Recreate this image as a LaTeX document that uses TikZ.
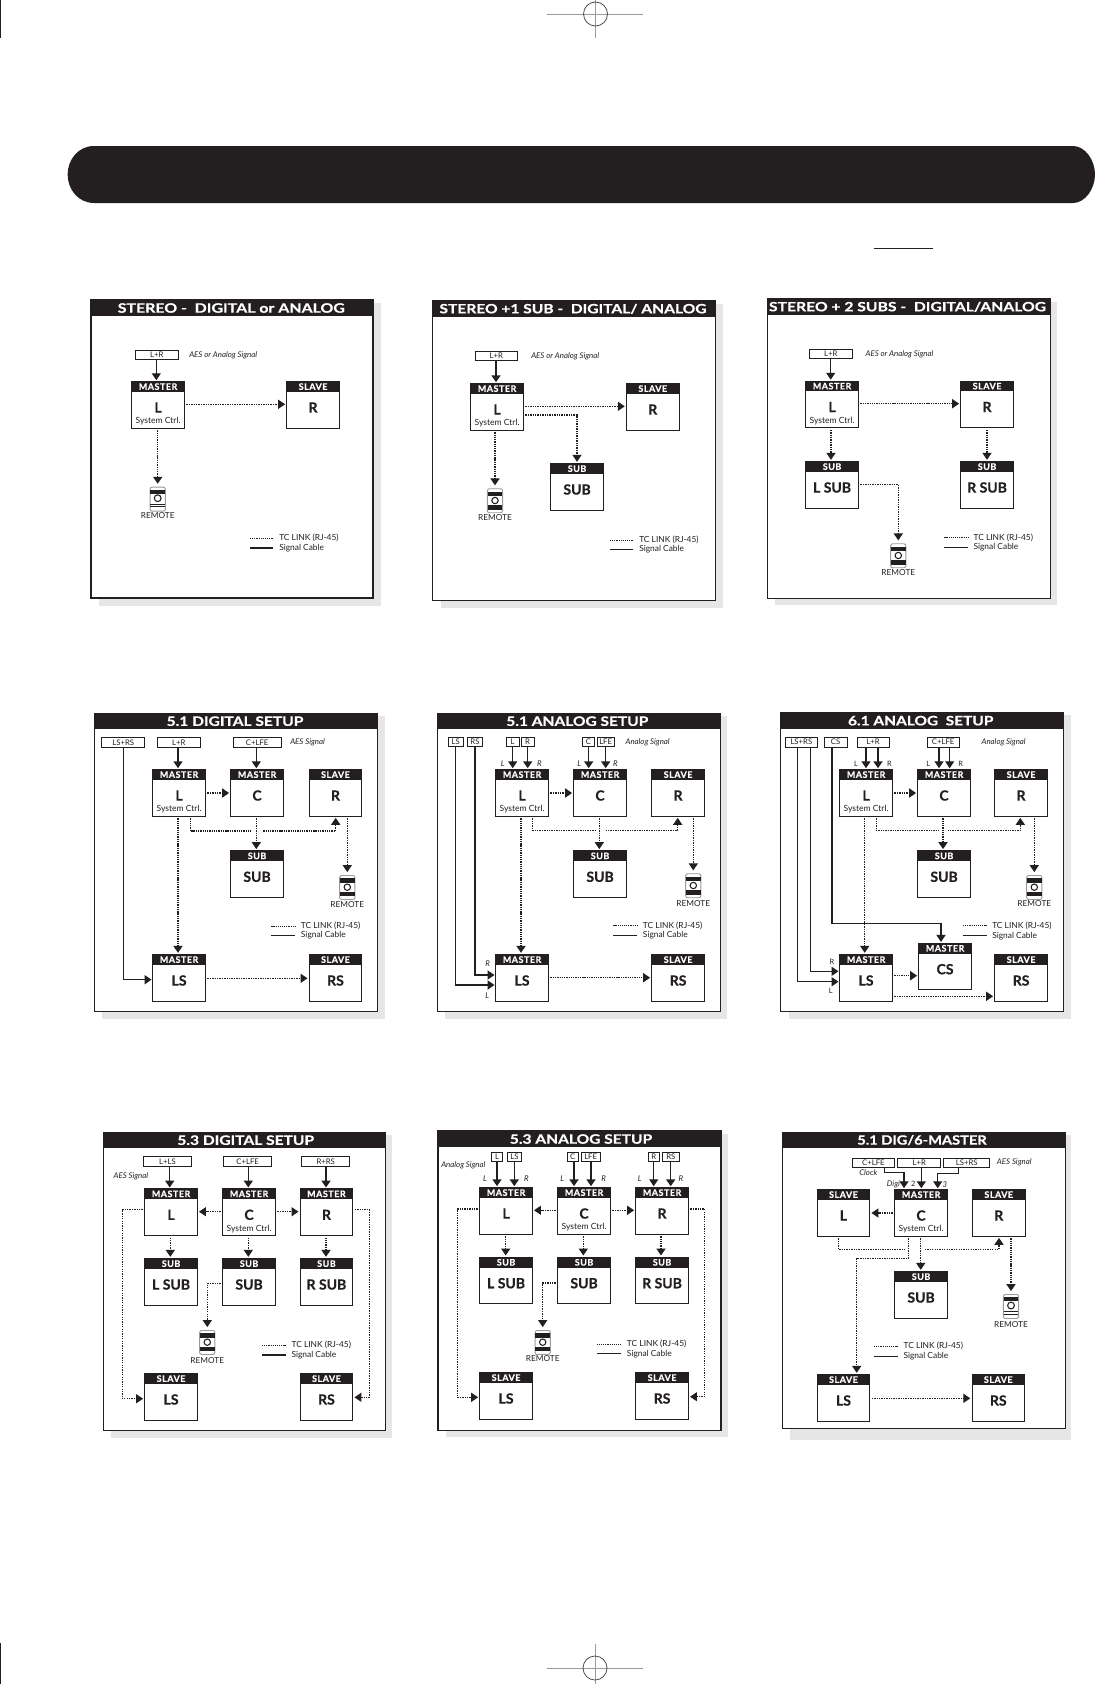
\documentclass[tikz,border=0pt]{standalone}
\usepackage{fontspec}
\usepackage{graphicx}
\setmainfont{Lato}
\usetikzlibrary{arrows.meta,calc}
\definecolor{ink}{HTML}{231F20}
\definecolor{shadowgrey}{HTML}{E6E6E6}
\definecolor{markgrey}{HTML}{9A9A9A}
\newlength\pxu \pxu=0.75pt
\newcommand{\heavyface}{\bfseries\addfontfeature{FakeBold=0.5}}
\tikzset{
 tipA/.tip={Triangle[length=5.2pt,width=6.8pt]},
 sig/.style={draw=ink,line width=0.85pt,-tipA,shorten >=0.6pt},
 sigb/.style={sig,line width=1.15pt},
 link/.style={draw=ink,line width=0.8pt,dash pattern=on 1pt off 0.8pt,-tipA,shorten >=0.9pt,shorten <=1.2pt},
 linkb/.style={link,line width=1.05pt,dash pattern=on 1pt off 0.7pt},
 toremote/.style={shorten >=2.2pt},
 unitbox/.style={draw=ink,fill=white,line width=0.75pt,minimum width=39.4pt,minimum height=35pt,inner sep=0pt,anchor=north west},
 unithead/.style={fill=ink,text=white,font=\fontsize{6.7}{8}\selectfont\heavyface\addfontfeature{LetterSpace=6},minimum width=39.4pt,minimum height=8pt,inner sep=0pt,anchor=north},
 unitlabel/.style={text=ink,font=\fontsize{10.5}{12}\selectfont\heavyface,inner sep=0pt},
 unitsub/.style={text=ink,font=\fontsize{6.4}{7}\selectfont,inner sep=0pt},
 inputbox/.style={draw=ink,fill=white,line width=0.75pt,inner sep=0pt,text=ink,font=\fontsize{5.8}{6}\selectfont},
 note/.style={text=ink,font=\fontsize{5.9}{6}\selectfont\itshape,inner sep=0pt},
 noteup/.style={text=ink,font=\fontsize{5.5}{6}\selectfont,inner sep=0pt},
 legendtext/.style={text=ink,font=\fontsize{6.3}{7}\selectfont,inner sep=0pt,anchor=west},
 legdot/.style={draw=ink,line width=0.6pt,dash pattern=on 0.9pt off 0.7pt},
 legline/.style={draw=ink,line width=0.7pt},
 remotelabel/.style={text=ink,font=\fontsize{6.2}{7}\selectfont,inner sep=0pt},
 remotebody/.style={draw=markgrey,fill=white,line width=0.7pt,rounded corners=1.5pt,minimum width=11.4pt,minimum height=18pt,inner sep=0pt,anchor=north},
 paneltitle/.style={text=white,inner sep=0pt},
 crossline/.style={draw=markgrey,line width=0.6pt},
 crosscirc/.style={draw=ink!80,line width=0.6pt},
}
% panel frame with shadow and title bar
\newcommand{\panel}[8]{%
 \fill[shadowgrey] ({#2+8},{#3+3}) rectangle (#7,#8);
 \draw[ink,fill=white,line width=0.85pt] (#2,#3) rectangle (#4,#5);
 \fill[ink] (#2,#3) rectangle (#4,#6);
 \coordinate (#1-bar) at (#2,{(#3+#6)/2});}
\newcommand{\ptitle}[4]{\node[paneltitle] (#1-t) at (#2,0 |- #1-bar) {\resizebox{#3\pxu}{9.5\pxu}{\heavyface #4}};}
% name, left, top, header, label, sub
\newcommand{\unit}[6]{%
 \node[unitbox] (#1) at (#2,#3) {};
 \node[unithead] (#1-h) at (#1.north) {#4};
 \node[unitlabel] (#1-l) at ($(#1.north)+(0,26.5)$) {#5};
 \node[unitsub] (#1-s) at ($(#1.north)+(0,40.5)$) {#6};}
% x0,y0,x1,y1,name,text
\newcommand{\inbox}[6]{%
 \pgfmathsetmacro\myw{(#3-#1)*0.75}\pgfmathsetmacro\myh{(#4-#2)*0.75}%
 \node[inputbox,minimum width=\myw pt,minimum height=\myh pt] (#5) at ({(#1+#3)/2},{(#2+#4)/2}) {#6};}
\newcommand{\vlink}[4]{\draw[#1] (#2 -| #4,0) -- (#3 -| #4,0);}
\newcommand{\hlink}[4]{\draw[#1] (#2 |- 0,#4) -- (#3 |- 0,#4);}
\newcommand{\legendn}[7]{%
 \node[legendtext] (#1-a) at (#4,#5) {TC LINK (RJ-45)};
 \node[legendtext] (#1-b) at (#4,#6) {Signal Cable};
 \draw[legdot] (#1-a.west -| #2,0) -- (#1-a.west -| #3,0);
 \draw[legline,#7] (#1-b.west -| #2,0) -- (#1-b.west -| #3,0);}
% name,cx,top,label y ; variant A
\newcommand{\remoteA}[4]{%
 \node[remotebody] (#1) at (#2,#3) {};
 \fill[ink] ($(#1.north west)+(0.6,3.4)$) rectangle ($(#1.north east)+(-0.6,6.8)$);
 \draw[ink,line width=0.8pt] ($(#1.north)+(0,11.5)$) circle[radius=3.4];
 \draw[ink,line width=0.6pt] ($(#1.north west)+(0.6,17.5)$) -- ($(#1.north east)+(-0.6,17.5)$);
 \draw[ink,line width=0.6pt] ($(#1.north west)+(0.6,20)$) -- ($(#1.north east)+(-0.6,20)$);
 \node[remotelabel] (#1-l) at (#2,#4) {REMOTE};}
\newcommand{\remoteB}[4]{%
 \node[remotebody] (#1) at (#2,#3) {};
 \fill[ink] ($(#1.north west)+(0.6,3.4)$) rectangle ($(#1.north east)+(-0.6,7.6)$);
 \fill[ink] ($(#1.north west)+(0.6,16.8)$) rectangle ($(#1.north east)+(-0.6,21.4)$);
 \draw[ink,line width=0.8pt] ($(#1.north)+(0,12.2)$) circle[radius=3.2];
 \node[remotelabel] (#1-l) at (#2,#4) {REMOTE};}
\begin{document}
\begin{tikzpicture}[x=0.75pt,y=-0.75pt]
\useasboundingbox (0,0) rectangle (1095,1684);
\fill[white] (0,0) rectangle (1095,1684);
% printer marks
\coordinate (mk1) at (595.5,14);
\draw[crossline] (547,14) -- (643,14);
\draw[crossline,line width=0.4pt] (595.5,0) -- (595.5,37.7);
\draw[crosscirc] (mk1) circle[radius=12];
\draw[ink,line width=0.7pt] (0.5,0) -- (0.5,37.7);
\coordinate (mk2) at (595,1668);
\draw[crossline] (546.7,1668) -- (642.7,1668);
\draw[crossline,line width=0.4pt] (595,1644) -- (595,1684);
\draw[crosscirc] (mk2) circle[radius=12];
\draw[ink,line width=0.7pt] (0.5,1643) -- (0.5,1684);
% banner
\fill[ink] (94,146) -- (1073,146) .. controls (1085,146) and (1095,160) .. (1095,174.5) .. controls (1095,189) and (1085,203) .. (1073,203) -- (94,203) .. controls (78,203) and (67.6,189) .. (67.6,174.5) .. controls (67.6,160) and (78,146) .. (94,146) -- cycle;
\draw[ink,line width=0.7pt] (873.5,248.3) -- (933,248.3);

% ---- panel 1
\panel{p1}{91}{300}{373}{598}{316}{381}{606}
\ptitle{p1}{231.3}{227}{STEREO -\ \ DIGITAL or ANALOG}
\inbox{135}{350.3}{178.7}{359.7}{p1i}{L+R}
\node[note,anchor=west] (p1n) at (189,355) {AES or Analog Signal};
\unit{p1L}{131.3}{381}{MASTER}{L}{System Ctrl.}
\unit{p1R}{286.3}{381}{SLAVE}{R}{}
\remoteA{p1rem}{157.7}{486.7}{516}
\vlink{sig}{p1i.south}{p1L.north}{156.3}
\hlink{link}{p1L.east}{p1R.west}{404.3}
\vlink{linkb,toremote}{p1L.south}{p1rem.north}{157.7}
\legendn{p1g}{250}{273.3}{279}{538.3}{547.7}{line width=1.2pt}

% ---- panel 2
\panel{p2}{432.7}{301}{715.7}{600.7}{316.7}{723}{608}
\ptitle{p2}{573}{267}{STEREO +1 SUB -\ \ DIGITAL/ ANALOG}
\inbox{475}{351.3}{517.7}{360.7}{p2i}{L+R}
\node[note,anchor=west] (p2n) at (531,356.3) {AES or Analog Signal};
\unit{p2L}{470.3}{383}{MASTER}{L}{System Ctrl.}
\unit{p2R}{626}{383}{SLAVE}{R}{}
\unit{p2S}{550.3}{463}{SUB}{SUB}{}
\remoteB{p2rem}{495}{488.3}{518}
\vlink{sigb}{p2i.south}{p2L.north}{496}
\hlink{link}{p2L.east}{p2R.west}{406.3}
\draw[link] (p2L.east |- 0,415) -| (p2S.north -| 577,0);
\vlink{linkb,toremote}{p2L.south}{p2rem.north}{495}
\legendn{p2g}{610}{633.3}{639}{540}{549.3}{}

% ---- panel 3
\panel{p3}{767.3}{299}{1050.7}{598.3}{314.7}{1057}{605}
\ptitle{p3}{907.5}{277}{STEREO + 2 SUBS -\ \ DIGITAL/ANALOG}
\inbox{809.3}{349.3}{852.3}{358.7}{p3i}{L+R}
\node[note,anchor=west] (p3n) at (865.3,354.7) {AES or Analog Signal};
\unit{p3L}{805.3}{380.5}{MASTER}{L}{System Ctrl.}
\unit{p3R}{960.3}{380.5}{SLAVE}{R}{}
\unit{p3A}{805.3}{461}{SUB}{L SUB}{}
\unit{p3B}{960.3}{461}{SUB}{R SUB}{}
\remoteB{p3rem}{898.3}{543.3}{572.3}
\vlink{sig}{p3i.south}{p3L.north}{830.7}
\hlink{linkb}{p3L.east}{p3R.west}{403.7}
\vlink{link}{p3L.south}{p3A.north}{831}
\vlink{link}{p3R.south}{p3B.north}{987}
\draw[link,toremote] (p3A.east |- 0,484.3) -| (p3rem.north);
\legendn{p3g}{944.3}{968}{973.3}{537.7}{547.3}{}

% ---- panel 4
\panel{p4}{94.3}{713.3}{377.7}{1011.7}{729}{385}{1019.3}
\ptitle{p4}{235}{136.7}{5.1 DIGITAL SETUP}
\inbox{101.7}{737.3}{144.7}{747.3}{p4i1}{LS+RS}
\inbox{157.3}{737.3}{200.3}{747.3}{p4i2}{L+R}
\inbox{233.3}{737.3}{281}{747.3}{p4i3}{C+LFE}
\node[note,anchor=west] (p4n) at (290,742.3) {AES Signal};
\unit{p4L}{152.3}{769}{MASTER}{L}{System Ctrl.}
\unit{p4C}{230.3}{769}{MASTER}{C}{}
\unit{p4R}{308.7}{769}{SLAVE}{R}{}
\unit{p4S}{230.3}{850.3}{SUB}{SUB}{}
\unit{p4LS}{152.3}{954}{MASTER}{LS}{}
\unit{p4RS}{308.7}{954}{SLAVE}{RS}{}
\remoteB{p4rem}{347.3}{875}{904.3}
\vlink{sigb}{p4i2.south}{p4L.north}{178}
\vlink{sig}{p4i3.south}{p4C.north}{256.3}
\draw[sigb] (p4i1.south -| 123.7,0) |- (p4LS.west |- 0,979.7);
\hlink{link}{p4L.east}{p4C.west}{793}
\coordinate (p4g1) at (251.7,831);
\coordinate (p4g2) at (261.7,831);
\draw[linkb,-] (p4L.south -| 190.3,0) |- (p4g1);
\draw[linkb] (p4g2) -| (p4R.south -| 335.7,0);
\vlink{link}{p4C.south}{p4S.north}{256.3}
\vlink{link,toremote}{p4R.south}{p4rem.north}{347.3}
\vlink{linkb}{p4L.south}{p4LS.north}{178}
\hlink{link}{p4LS.east}{p4RS.west}{978.3}
\legendn{p4g}{271.3}{295}{300.7}{926}{935.3}{}

% ---- panel 5
\panel{p5}{437.3}{713.3}{720.7}{1011.7}{729}{727}{1019}
\ptitle{p5}{577.3}{142}{5.1 ANALOG SETUP}
\inbox{448.3}{737.3}{463}{746.7}{p5i1}{LS}
\inbox{467.7}{737.3}{482.3}{746.7}{p5i2}{RS}
\inbox{506.3}{737.3}{519}{746.7}{p5i3}{L}
\inbox{521.3}{737.3}{534}{746.7}{p5i4}{R}
\inbox{582.3}{737.3}{594.7}{746.7}{p5i5}{C}
\inbox{597}{737.3}{614.3}{746.7}{p5i6}{LFE}
\node[note,anchor=west] (p5n) at (625.3,742.3) {Analog Signal};
\unit{p5L}{495.3}{769}{MASTER}{L}{System Ctrl.}
\unit{p5C}{573.3}{769}{MASTER}{C}{}
\unit{p5R}{651.3}{769}{SLAVE}{R}{}
\unit{p5S}{573.3}{850.3}{SUB}{SUB}{}
\unit{p5LS}{495.3}{954}{MASTER}{LS}{}
\unit{p5RS}{651.3}{954}{SLAVE}{RS}{}
\remoteB{p5rem}{693.3}{873.3}{903.7}
\vlink{sig}{p5i3.south}{p5L.north}{512.7}
\vlink{sigb}{p5i4.south}{p5L.north}{527.7}
\vlink{sigb}{p5i5.south}{p5C.north}{588.7}
\vlink{sigb}{p5i6.south}{p5C.north}{605.7}
\node[note] (p5a) at (502.7,764) {L};
\node[note] (p5b) at (539.3,764) {R};
\node[note] (p5c) at (579.3,764) {L};
\node[note] (p5d) at (615.3,764) {R};
\node[note] (p5e) at (487.7,963.3) {R};
\node[note] (p5f) at (487.3,996) {L};
\draw[sigb] (p5i1.south -| 455.7,0) |- (p5LS.west |- 0,985);
\draw[sig] (p5i2.south -| 475,0) |- (p5LS.west |- 0,975);
\hlink{link}{p5L.east}{p5C.west}{793}
\coordinate (p5g1) at (596.7,830.7);
\coordinate (p5g2) at (604,830.7);
\draw[link,-] (p5L.south -| 532.7,0) |- (p5g1);
\draw[link] (p5g2) -| (p5R.south -| 677.7,0);
\vlink{link}{p5C.south}{p5S.north}{599.3}
\vlink{link,toremote}{p5R.south}{p5rem.north}{693.3}
\vlink{linkb}{p5L.south}{p5LS.north}{521}
\hlink{linkb}{p5LS.east}{p5RS.west}{977.7}
\legendn{p5g}{613.3}{637}{642.7}{925.7}{935}{}

% ---- panel 6
\panel{p6}{780.7}{712.3}{1063.7}{1011.7}{729}{1070.7}{1019}
\ptitle{p6}{920.7}{145.3}{6.1 ANALOG\ \ SETUP}
\inbox{785.7}{737.3}{817}{747}{p6i1}{LS+RS}
\inbox{824.3}{737.3}{847}{747}{p6i2}{CS}
\inbox{857.3}{737.3}{889}{747}{p6i3}{L+R}
\inbox{927.3}{737.3}{959}{747}{p6i4}{C+LFE}
\node[note,anchor=west] (p6n) at (981.3,742.3) {Analog Signal};
\unit{p6L}{839.3}{769}{MASTER}{L}{System Ctrl.}
\unit{p6C}{917.3}{769}{MASTER}{C}{}
\unit{p6R}{994.3}{769}{SLAVE}{R}{}
\unit{p6S}{917.3}{850.3}{SUB}{SUB}{}
\unit{p6LS}{839.3}{954}{MASTER}{LS}{}
\unit{p6CS}{918.3}{942.7}{MASTER}{CS}{}
\unit{p6RS}{994.3}{954}{SLAVE}{RS}{}
\remoteB{p6rem}{1034.3}{875}{904}
\vlink{sig}{p6i3.south}{p6L.north}{866}
\vlink{sigb}{p6i3.south}{p6L.north}{878}
\vlink{sig}{p6i4.south}{p6C.north}{939}
\vlink{sig}{p6i4.south}{p6C.north}{949.7}
\node[noteup] (p6a) at (856,764) {L};
\node[noteup] (p6b) at (889.3,764) {R};
\node[noteup] (p6c) at (928.3,764) {L};
\node[noteup] (p6d) at (960.7,764) {R};
\node[noteup] (p6e) at (832,961.7) {R};
\node[noteup] (p6f) at (830.7,991.3) {L};
\draw[sigb] (p6i1.south -| 797.7,0) |- (p6LS.west |- 0,981.7);
\draw[sig] (p6i1.south -| 810.3,0) |- (p6LS.west |- 0,971.3);
\coordinate (p6c1) at (941,923.7);
\draw[sig] (p6i2.south -| 832,0) |- (p6c1) -- (p6CS.north -| p6c1);
\hlink{link}{p6L.east}{p6C.west}{793}
\coordinate (p6g1) at (940,830.7);
\coordinate (p6g2) at (946,830.7);
\draw[link,-] (p6L.south -| 876.3,0) |- (p6g1);
\draw[link] (p6g2) -| (p6R.south -| 1020.3,0);
\vlink{linkb}{p6C.south}{p6S.north}{943}
\vlink{link,toremote}{p6R.south}{p6rem.north}{1034.3}
\vlink{link}{p6L.south}{p6LS.north}{864.7}
\hlink{linkb}{p6LS.east}{p6CS.west}{975.7}
\hlink{link}{p6LS.east}{p6RS.west}{996.3}
\legendn{p6g}{963}{986.7}{992}{925.7}{935.7}{}

% ---- panel 7
\panel{p7}{103.3}{1132.3}{385.7}{1430.7}{1148}{392}{1438}
\ptitle{p7}{245.7}{136.7}{5.3 DIGITAL SETUP}
\inbox{143.3}{1156.7}{191.7}{1166.3}{p7i1}{L+LS}
\inbox{223.7}{1156.7}{271.7}{1166.3}{p7i2}{C+LFE}
\inbox{301.7}{1156.7}{349.7}{1166.3}{p7i3}{R+RS}
\node[note,anchor=west] (p7n) at (113.3,1176) {AES Signal};
\unit{p7L}{144.3}{1188.3}{MASTER}{L}{}
\unit{p7C}{222.3}{1188.3}{MASTER}{C}{System Ctrl.}
\unit{p7R}{299.7}{1188.3}{MASTER}{R}{}
\unit{p7A}{144.3}{1258}{SUB}{L SUB}{}
\unit{p7B}{222.3}{1258}{SUB}{SUB}{}
\unit{p7D}{299.7}{1258}{SUB}{R SUB}{}
\unit{p7LS}{144.3}{1373}{SLAVE}{LS}{}
\unit{p7RS}{299.7}{1373}{SLAVE}{RS}{}
\remoteB{p7rem}{207.3}{1330}{1360.3}
\vlink{sig}{p7i1.south}{p7L.north}{169.7}
\vlink{sig}{p7i2.south}{p7C.north}{248.3}
\vlink{sigb}{p7i3.south}{p7R.north}{326}
\hlink{link}{p7C.west}{p7L.east}{1211.7}
\hlink{link}{p7C.east}{p7R.west}{1211.7}
\coordinate (p7c1) at (122.3,1209.7);
\coordinate (p7c2) at (369.3,1209.7);
\draw[link] (p7L.west |- p7c1) -- (p7c1) |- (p7LS.west |- 0,1398.7);
\draw[link] (p7R.east |- p7c2) -- (p7c2) |- (p7RS.east |- 0,1397.3);
\vlink{link}{p7L.south}{p7A.north}{170.3}
\vlink{link}{p7C.south}{p7B.north}{248.3}
\vlink{linkb}{p7R.south}{p7D.north}{326}
\draw[link,toremote] (p7B.west |- 0,1283.7) -| (p7rem.north);
\legendn{p7g}{262}{285.7}{291.3}{1345.3}{1355}{line width=1.2pt}

% ---- panel 8
\panel{p8}{438}{1131}{721}{1430.7}{1147}{727.7}{1437.3}
\ptitle{p8}{581}{142.3}{5.3 ANALOG SETUP}
\inbox{491.3}{1152.3}{502.7}{1161.7}{p8i1}{L}
\inbox{507.3}{1152.3}{521.7}{1161.7}{p8i2}{LS}
\inbox{567}{1152.3}{578.3}{1161.7}{p8i3}{C}
\inbox{581.3}{1152.3}{600}{1161.7}{p8i4}{LFE}
\inbox{648.3}{1152.3}{659.3}{1161.7}{p8i5}{R}
\inbox{662.3}{1152.3}{679.3}{1161.7}{p8i6}{RS}
\node[note,anchor=west] (p8n) at (441,1165.7) {Analog Signal};
\unit{p8L}{479.3}{1187}{MASTER}{L}{}
\unit{p8C}{557.3}{1187}{MASTER}{C}{System Ctrl.}
\unit{p8R}{635.3}{1187}{MASTER}{R}{}
\unit{p8A}{479.3}{1256.7}{SUB}{L SUB}{}
\unit{p8B}{557.3}{1256.7}{SUB}{SUB}{}
\unit{p8D}{635.3}{1256.7}{SUB}{R SUB}{}
\unit{p8LS}{479.3}{1372}{SLAVE}{LS}{}
\unit{p8RS}{635.3}{1372}{SLAVE}{RS}{}
\remoteB{p8rem}{542.7}{1330}{1358.7}
\vlink{sigb}{p8i1.south}{p8L.north}{497}
\vlink{sigb}{p8i2.south}{p8L.north}{514.3}
\vlink{sigb}{p8i3.south}{p8C.north}{574}
\vlink{sigb}{p8i4.south}{p8C.north}{591}
\vlink{sig}{p8i5.south}{p8R.north}{653.7}
\vlink{sigb}{p8i6.south}{p8R.north}{670.7}
\node[note] (p8a) at (485,1178.7) {L};
\node[note] (p8b) at (526.3,1178.7) {R};
\node[note] (p8c) at (562.3,1178.7) {L};
\node[note] (p8d) at (603.7,1178.7) {R};
\node[note] (p8e) at (639.7,1178.7) {L};
\node[note] (p8f) at (681,1178.7) {R};
\hlink{link}{p8C.west}{p8L.east}{1210.3}
\hlink{link}{p8C.east}{p8R.west}{1210.3}
\coordinate (p8c1) at (457.3,1209);
\coordinate (p8c2) at (704.7,1209);
\draw[link] (p8L.west |- p8c1) -- (p8c1) |- (p8LS.west |- 0,1397.3);
\draw[link] (p8R.east |- p8c2) -- (p8c2) |- (p8RS.east |- 0,1396.7);
\vlink{link}{p8L.south}{p8A.north}{505.7}
\vlink{link}{p8C.south}{p8B.north}{583.3}
\vlink{linkb}{p8R.south}{p8D.north}{661}
\draw[link,toremote] (p8B.west |- 0,1283) -| (p8rem.north);
\legendn{p8g}{596.7}{620.7}{626.7}{1344.3}{1353.7}{}

% ---- panel 9
\panel{p9}{782.3}{1132.3}{1065.7}{1428.3}{1148}{1071}{1440}
\ptitle{p9}{922}{129.4}{5.1 DIG/6-MASTER}
\inbox{852}{1158}{894.7}{1167.7}{p9i1}{C+LFE}
\inbox{897.7}{1158}{940.7}{1167.7}{p9i2}{L+R}
\inbox{943.7}{1158}{989.7}{1167.7}{p9i3}{LS+RS}
\node[note,anchor=west] (p9n) at (996.7,1162.3) {AES Signal};
\node[note,anchor=west] (p9k) at (859,1172.7) {Clock};
\node[note,anchor=west] (p9o) at (886.7,1184.3) {Digi};
\node[noteup] (p9p) at (913.3,1184.3) {2};
\node[note] (p9q) at (945,1184.3) {3};
\unit{p9L}{816.7}{1189}{SLAVE}{L}{}
\unit{p9C}{894.3}{1189}{MASTER}{C}{System Ctrl.}
\unit{p9R}{972}{1189}{SLAVE}{R}{}
\unit{p9S}{894.3}{1271}{SUB}{SUB}{}
\unit{p9LS}{816.7}{1374}{SLAVE}{LS}{}
\unit{p9RS}{971.5}{1374}{SLAVE}{RS}{}
\remoteA{p9rem}{1011}{1294}{1324.3}
\coordinate (p9a1) at (904,1172.7);
\coordinate (p9a2) at (937.7,1173.3);
\draw[sig] (p9i1.south -| 884.7,0) |- (p9a1) -- (p9C.north -| p9a1);
\vlink{sigb}{p9i2.south}{p9C.north}{921.3}
\draw[sig] (p9i3.south -| 958.3,0) |- (p9a2) -- (p9C.north -| p9a2);
\hlink{link}{p9C.west}{p9L.east}{1213}
\coordinate (p9g1) at (906.7,1249.3);
\coordinate (p9g2) at (923.3,1249.3);
\draw[link,-] (p9L.south -| 838.3,0) |- (p9g1);
\draw[link] (p9g2) -| (p9R.south -| 999,0);
\vlink{link}{p9C.south}{p9S.north}{920.7}
\coordinate (p9b1) at (908.7,1258.3);
\coordinate (p9b2) at (856.7,1258.3);
\draw[link] (p9C.south -| p9b1) -- (p9b1) -- (p9b2) -- (p9LS.north -| p9b2);
\vlink{linkb,toremote}{p9R.south}{p9rem.north}{1011}
\hlink{link}{p9LS.east}{p9RS.west}{1398.3}
\legendn{p9g}{874}{897.7}{903.3}{1346.3}{1356}{}
\end{tikzpicture}
\end{document}
